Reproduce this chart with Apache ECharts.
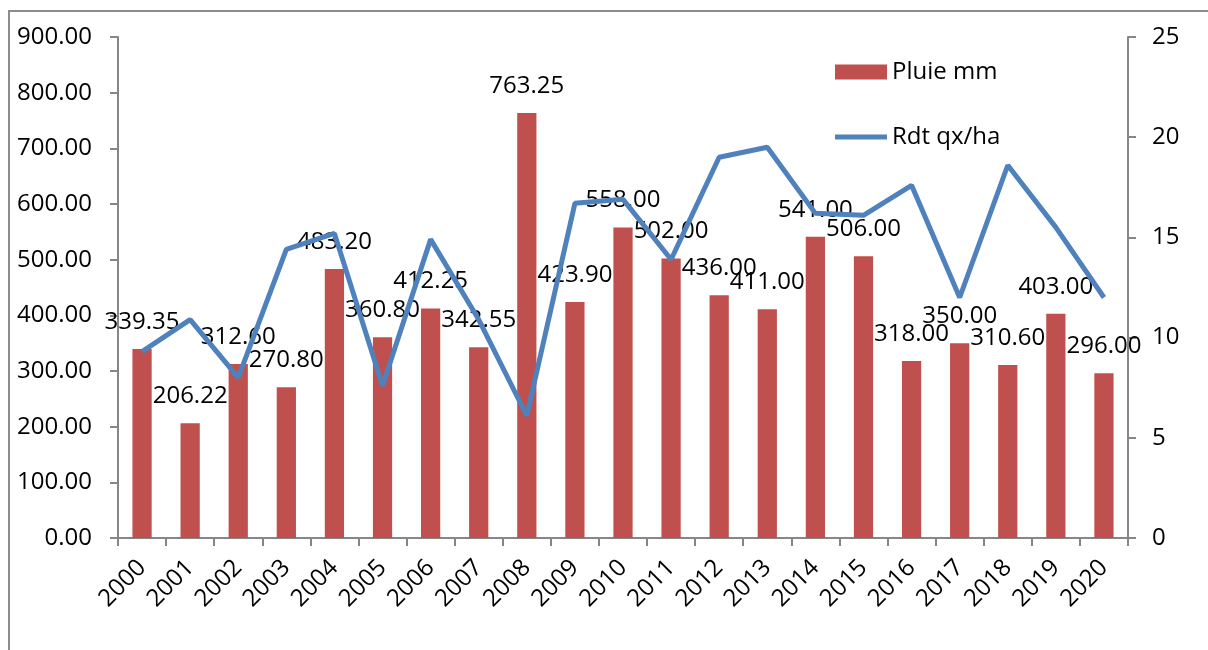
<!DOCTYPE html>
<html>
<head>
<meta charset="utf-8">
<script src="https://cdn.jsdelivr.net/npm/echarts@6/dist/echarts.min.js"></script>
<style>
  html, body { margin: 0; padding: 0; background: #fff; }
  #chart { width: 1208px; height: 650px; }
</style>
</head>
<body>
<div id="chart"></div>
<script>
var years = ["2000", "2001", "2002", "2003", "2004", "2005", "2006", "2007", "2008", "2009", "2010",
  "2011", "2012", "2013", "2014", "2015", "2016", "2017", "2018", "2019", "2020"];
var pluie = [339.35, 206.22, 312.60, 270.80, 483.20, 360.80, 412.25, 342.55, 763.25, 423.90, 558.00,
  502.00, 436.00, 411.00, 541.00, 506.00, 318.00, 350.00, 310.60, 403.00, 296.00];
var rdt = [9.3, 10.9, 8.0, 14.4, 15.2, 7.6, 14.9, 10.9, 6.1, 16.7, 16.9,
  13.9, 19.0, 19.5, 16.2, 16.1, 17.6, 12.0, 18.6, 15.5, 12.0];

var font = "'Open Sans', sans-serif";
var axisGray = "#868686";

var chart = echarts.init(document.getElementById("chart"));
chart.setOption({
  animation: false,
  textStyle: { fontFamily: font, color: "#000" },
  graphic: [
    {
      type: "rect",
      shape: { x: 9, y: 11, width: 1400, height: 900 },
      style: { fill: "none", stroke: "#8c8c8c", lineWidth: 2 },
      silent: true
    }
  ],
  grid: { left: 118, right: 80, top: 37, bottom: 112, outerBoundsMode: "none" },
  legend: {
    orient: "vertical",
    left: 830,
    top: 55,
    itemWidth: 52,
    itemHeight: 15,
    itemGap: 41,
    textStyle: { fontFamily: font, fontSize: 24, color: "#000" },
    data: [
      { name: "Pluie mm", icon: "rect" },
      { name: "Rdt qx/ha", icon: "path://M0,0 L52,0 L52,5 L0,5 Z" }
    ]
  },
  xAxis: {
    type: "category",
    data: years,
    boundaryGap: true,
    axisLine: { lineStyle: { color: axisGray, width: 2 } },
    axisTick: { show: true, interval: 0, length: 8, lineStyle: { color: axisGray, width: 2 } },
    axisLabel: { interval: 0, rotate: 45, margin: 26, fontSize: 24, color: "#000", fontFamily: font }
  },
  yAxis: [
    {
      type: "value",
      min: 0,
      max: 900,
      interval: 100,
      splitLine: { show: false },
      axisLine: { show: true, lineStyle: { color: axisGray, width: 2 } },
      axisTick: { show: true, length: 8, lineStyle: { color: axisGray, width: 2 } },
      axisLabel: {
        margin: 26, fontSize: 24, color: "#000", fontFamily: font,
        formatter: function (v) { return v.toFixed(2); }
      }
    },
    {
      type: "value",
      min: 0,
      max: 25,
      interval: 5,
      position: "right",
      splitLine: { show: false },
      axisLine: { show: true, lineStyle: { color: axisGray, width: 2 } },
      axisTick: { show: true, length: 8, lineStyle: { color: axisGray, width: 2 } },
      axisLabel: { margin: 24, fontSize: 24, color: "#000", fontFamily: font }
    }
  ],
  series: [
    {
      name: "Pluie mm",
      type: "bar",
      data: pluie,
      barWidth: "40%",
      itemStyle: { color: "#c0504d" },
      label: {
        show: true,
        position: "top",
        distance: 15,
        fontSize: 24,
        color: "#000",
        fontFamily: font,
        formatter: function (p) { return p.value.toFixed(2); }
      },
      z: 2
    },
    {
      name: "Rdt qx/ha",
      type: "line",
      yAxisIndex: 1,
      data: rdt,
      symbol: "none",
      lineStyle: { color: "#4f81bd", width: 5 },
      itemStyle: { color: "#4f81bd" },
      z: 3
    }
  ]
});
</script>
</body>
</html>
